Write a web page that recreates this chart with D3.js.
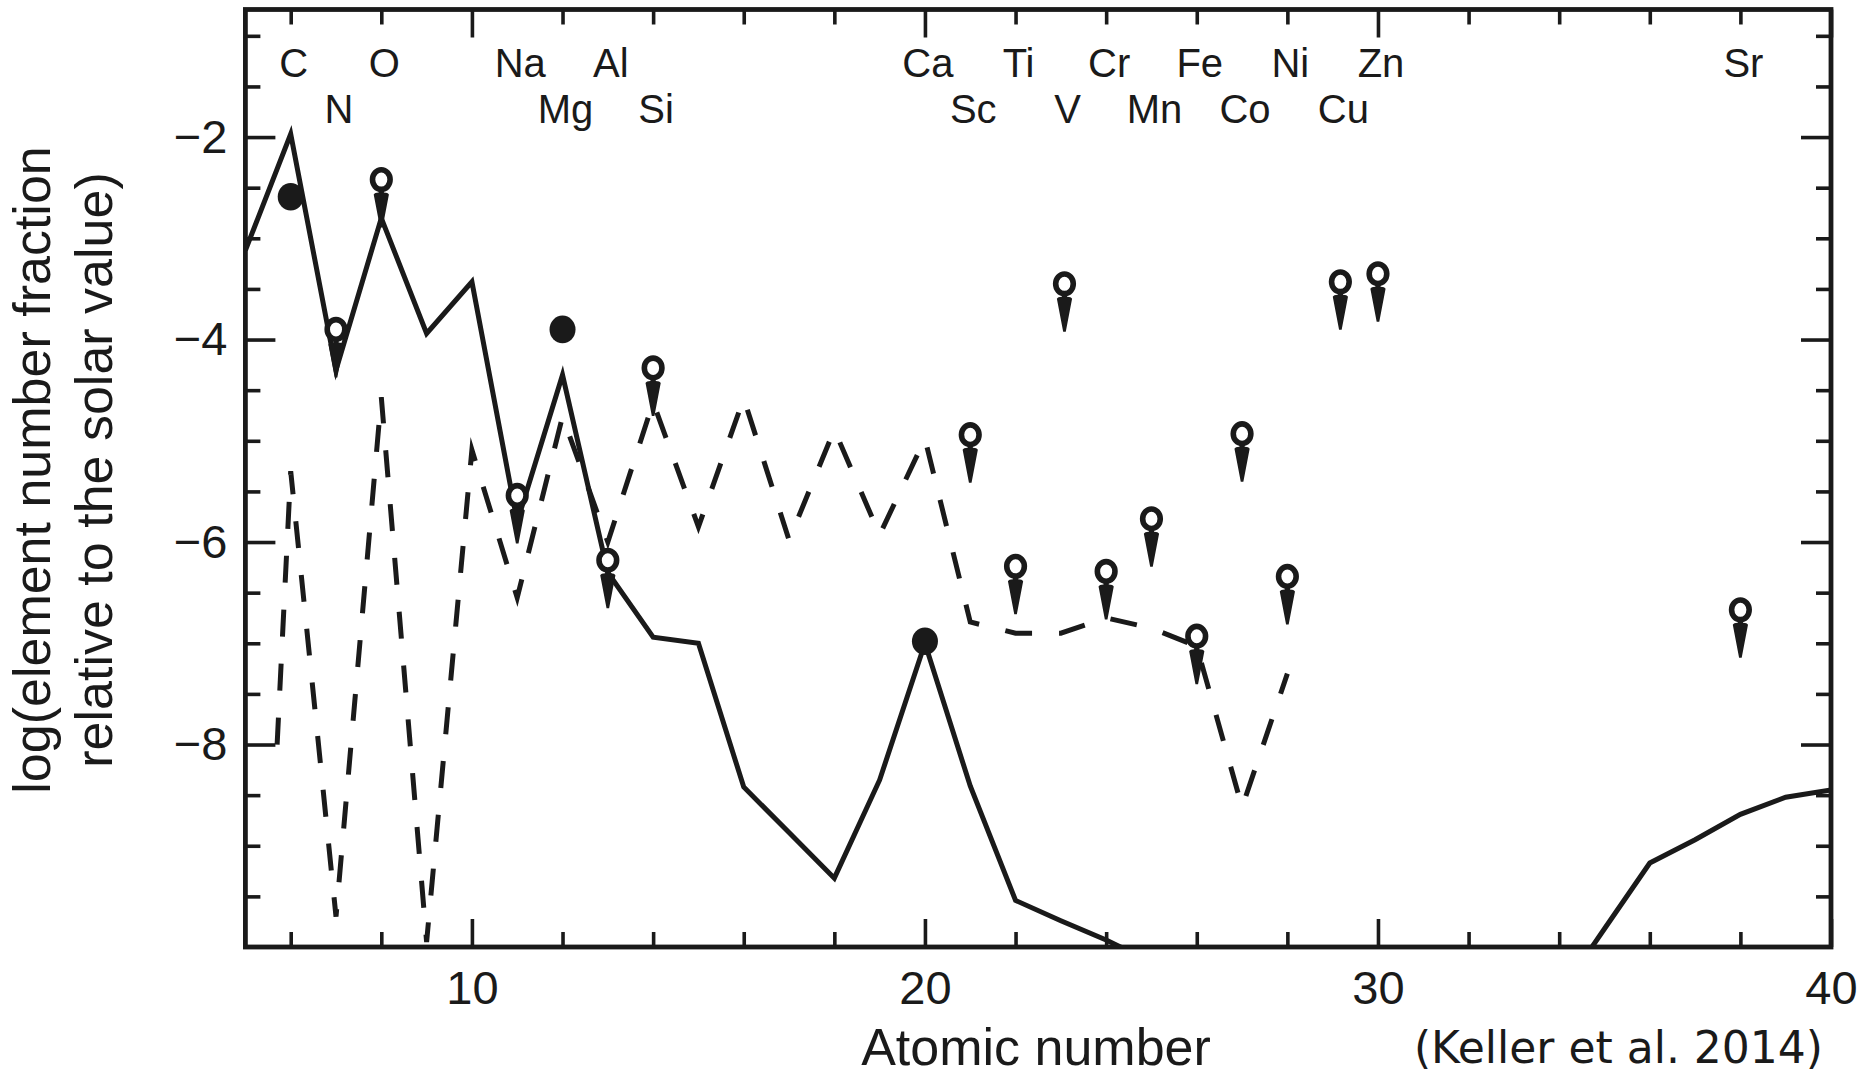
<!DOCTYPE html>
<html><head><meta charset="utf-8">
<script src="https://cdn.jsdelivr.net/npm/d3@7"></script>
<style>body{margin:0;background:#fff} svg{display:block}</style>
</head><body>
<svg id="chart" width="1868" height="1075"></svg>
<script>
// ---------- data ----------
const solidZ = [5,6,7,8,9,10,11,12,13,14,15,16,17,18,19,20,21,22,23,24,25,26,27,28,29,30,31,32,33,34,35,36,37,38,39,40];
const solidValues = [-3.12,-1.97,-4.3,-2.8,-3.94,-3.43,-5.8,-4.35,-6.3,-6.94,-7.0,-8.42,-8.87,-9.32,-8.35,-7.0,-8.41,-9.54,-9.74,-9.93,-10.15,
  null,null,null,null,null,null,null,null,-10.47,-9.82,-9.17,-8.94,-8.69,-8.52,-8.45];
const dashedZ = [5.7,6,7,8,9,10,11,12,13,14,15,16,17,18,19,20,21,22,23,24,25,26,27,28];
const dashedValues = [-8.0,-5.3,-9.7,-4.57,-9.95,-5.09,-6.55,-4.76,-6.0,-4.62,-5.85,-4.58,-5.98,-4.89,-5.93,-4.98,-6.79,-6.9,-6.9,-6.75,-6.85,-7.03,-8.62,-7.3];

const detectedNames = ["C","Mg","Ca"];
const detectedZ = [6,12,20];
const detectedValues = [-2.59,-3.9,-6.98];

const limitNames = ["N","O","Na","Al","Si","Sc","Ti","V","Cr","Mn","Fe","Co","Ni","Cu","Zn","Sr"];
const limitZ = [7,8,11,13,14,21,22,23.08,24,25,26,27,28,29.17,30,38];
const limitValues = [-3.9,-2.42,-5.54,-6.18,-4.28,-4.94,-6.24,-3.45,-6.29,-5.77,-6.93,-4.93,-6.34,-3.43,-3.35,-6.67];

const elementNames = ["C","N","O","Na","Mg","Al","Si","Ca","Sc","Ti","V","Cr","Mn","Fe","Co","Ni","Cu","Zn","Sr"];
const elementZ =     [6,7,8,11,12,13,14,20,21,22,23.08,24,25,26,27,28,29.17,30,38];
const elementRow =   [1,2,1,1,2,1,2,1,2,1,2,1,2,1,2,1,2,1,1];

const xMajorTicks = [10,20,30,40];
const xMinorTicks = [6,8,12,14,16,18,22,24,26,28,32,34,36,38];
const yMajorTicks = [-2,-4,-6,-8];
const yMinorTicks = [-1,-1.5,-2.5,-3,-3.5,-4.5,-5,-5.5,-6.5,-7,-7.5,-8.5,-9,-9.5];

const xTitle = "Atomic number";
const yTitle = ["log(element number fraction", "relative to the solar value)"];
const citation = "(Keller et al. 2014)";

// ---------- layout ----------
const L = 245.4, R = 1831, T = 9.5, B = 947;
const x = d3.scaleLinear().domain([5, 40]).range([L, R]);
const y = d3.scaleLinear().domain([-10, -0.74]).range([B, T]);
const FONT = "'Liberation Sans', Arial, Helvetica, sans-serif";
const INK = "#1a1a1a";

const svg = d3.select("#chart");
svg.append("rect").attr("width",1868).attr("height",1075).attr("fill","#fff");

svg.append("defs").append("clipPath").attr("id","plotclip")
  .append("rect").attr("x",L).attr("y",T).attr("width",R-L).attr("height",B-T);

// ---------- axes ----------
function styleAxis(g, sw) {
  g.select(".domain").remove();
  g.selectAll(".tick line").attr("stroke",INK).attr("stroke-width",sw);
  g.selectAll(".tick text").attr("fill",INK).attr("font-family",FONT);
}
const axes = svg.append("g");
axes.append("g").attr("transform",`translate(${L},0)`)
  .call(d3.axisLeft(y).tickValues(yMajorTicks).tickSize(-30).tickPadding(18).tickFormat(d3.format("d")))
  .call(g => { styleAxis(g, 3.6); g.selectAll(".tick text").attr("font-size",47); });
axes.append("g").attr("transform",`translate(${L},0)`)
  .call(d3.axisLeft(y).tickValues(yMinorTicks).tickSize(-15).tickFormat(""))
  .call(g => styleAxis(g, 3.6));
axes.append("g").attr("transform",`translate(${R},0)`)
  .call(d3.axisRight(y).tickValues(yMajorTicks).tickSize(-30).tickFormat(""))
  .call(g => styleAxis(g, 3.6));
axes.append("g").attr("transform",`translate(${R},0)`)
  .call(d3.axisRight(y).tickValues(yMinorTicks).tickSize(-15).tickFormat(""))
  .call(g => styleAxis(g, 3.6));
axes.append("g").attr("transform",`translate(0,${B})`)
  .call(d3.axisBottom(x).tickValues(xMajorTicks).tickSize(-28).tickPadding(24).tickFormat(d3.format("d")))
  .call(g => { styleAxis(g, 3.6); g.selectAll(".tick text").attr("font-size",47); });
axes.append("g").attr("transform",`translate(0,${B})`)
  .call(d3.axisBottom(x).tickValues(xMinorTicks).tickSize(-15).tickFormat(""))
  .call(g => styleAxis(g, 3.6));
axes.append("g").attr("transform",`translate(0,${T})`)
  .call(d3.axisTop(x).tickValues(xMajorTicks).tickSize(-28).tickFormat(""))
  .call(g => styleAxis(g, 3.6));
axes.append("g").attr("transform",`translate(0,${T})`)
  .call(d3.axisTop(x).tickValues(xMinorTicks).tickSize(-15).tickFormat(""))
  .call(g => styleAxis(g, 3.6));

// ---------- model lines ----------
const plot = svg.append("g").attr("clip-path","url(#plotclip)");
const lineGen = d3.line()
  .defined(d => d[1] !== null)
  .x(d => x(d[0])).y(d => y(d[1]));

plot.append("path")
  .datum(d3.zip(dashedZ, dashedValues))
  .attr("d", lineGen)
  .attr("fill","none").attr("stroke",INK).attr("stroke-width",5)
  .attr("stroke-dasharray","27,27").attr("stroke-linejoin","miter").attr("stroke-miterlimit",10);

plot.append("path")
  .datum(d3.zip(solidZ, solidValues))
  .attr("d", lineGen)
  .attr("fill","none").attr("stroke",INK).attr("stroke-width",5)
  .attr("stroke-linejoin","miter").attr("stroke-miterlimit",10);

// ---------- markers ----------
const marks = svg.append("g");
marks.selectAll("ellipse.det")
  .data(d3.zip(detectedZ, detectedValues))
  .join("ellipse").attr("class","det")
  .attr("cx", d => x(d[0])).attr("cy", d => y(d[1]))
  .attr("rx",13).attr("ry",13.8).attr("fill",INK);

const lim = marks.selectAll("g.lim")
  .data(d3.zip(limitZ, limitValues))
  .join("g").attr("class","lim")
  .attr("transform", d => `translate(${x(d[0])},${y(d[1])})`);
lim.append("path")
  .attr("d","M-2.6,9 L2.6,9 L2.6,13 Q6.8,13 7.6,15 L1.3,48 L-1.3,48 L-7.6,15 Q-6.8,13 -2.6,13 Z")
  .attr("fill",INK);
lim.append("ellipse").attr("rx",8.8).attr("ry",9.8)
  .attr("fill","#fff").attr("stroke",INK).attr("stroke-width",5.6);

// ---------- element labels ----------
svg.append("g").selectAll("text")
  .data(d3.zip(elementNames, elementZ, elementRow))
  .join("text")
  .attr("x", d => x(d[1]) + 3)
  .attr("y", d => d[2] === 1 ? 77 : 123)
  .attr("text-anchor","middle")
  .attr("font-family",FONT).attr("font-size",40).attr("fill",INK)
  .text(d => d[0]);

// ---------- titles ----------
svg.append("text").attr("x",1036).attr("y",1065).attr("text-anchor","middle")
  .attr("font-family",FONT).attr("font-size",52).attr("fill",INK).text(xTitle);

yTitle.forEach((t,i) => {
  svg.append("text")
    .attr("transform",`translate(${i===0?50:112},470)rotate(-90)`)
    .attr("text-anchor","middle")
    .attr("font-family",FONT).attr("font-size",52).attr("fill",INK).text(t);
});

svg.append("text").attr("x",1823).attr("y",1063).attr("text-anchor","end")
  .attr("font-family","'DejaVu Sans', Verdana, sans-serif").attr("font-size",44).attr("fill",INK).text(citation);

// ---------- frame ----------
svg.append("rect").attr("x",L).attr("y",T).attr("width",R-L).attr("height",B-T)
  .attr("fill","none").attr("stroke",INK).attr("stroke-width",4.8);
</script>
</body></html>
